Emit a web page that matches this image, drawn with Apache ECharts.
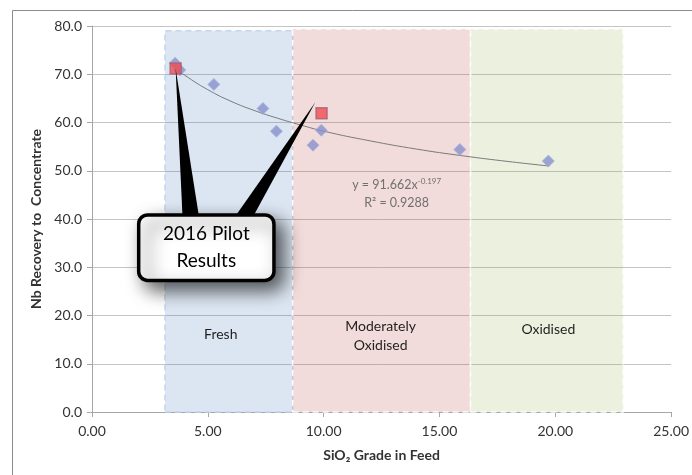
<!DOCTYPE html>
<html><head><meta charset="utf-8">
<script src="https://cdn.jsdelivr.net/npm/echarts@6/dist/echarts.min.js"></script>
<style>html,body{margin:0;padding:0;background:#fff}#c{width:692px;height:475px}</style>
</head><body><div id="c"></div>
<script>
// ---- data ----
const samplePoints = [[3.59,72.3],[3.79,70.9],[5.26,67.9],[7.38,62.9],[7.96,58.2],[9.54,55.3],[9.90,58.4],[15.88,54.4],[19.70,52.0]];
const pilotPoints = [[3.61,71.2],[9.91,61.9]];
const trendPoints = [[3.6,71.2],[4,69.8],[5,66.8],[6,64.4],[7,62.5],[8,60.9],[9,59.5],[10,58.2],[12,56.2],[14,54.5],[16,53.1],[18,51.9],[19.7,51.0]];
const zoneNames = ['Fresh','Moderately\nOxidised','Oxidised'];
const zoneFrom = [3.15, 8.66, 16.34];
const zoneTo = [8.66, 16.34, 22.93];
const zoneTop = [79.0, 79.4, 79.4];
const zoneLabelAt = [[5.56,16.1],[12.46,15.8],[19.7,17.2]];
const xTickLabels = ['0.00','5.00','10.00','15.00','20.00','25.00'];
const yTickLabels = ['0.0','10.0','20.0','30.0','40.0','50.0','60.0','70.0','80.0'];
const equationText = ['y = 91.662x', '-0.197', 'R² = 0.9288'];
const calloutText = ['2016 Pilot','Results'];

const FONT = 'Lato, "Open Sans", sans-serif';
const zoneFill = ['rgba(79,129,189,0.2)','rgba(192,80,77,0.2)','rgba(155,187,89,0.2)'];
const zoneBorder = ['#c3d5ec','rgba(255,255,255,0.9)','rgba(255,255,255,0.9)'];
const txt = '#333333';

const chart = echarts.init(document.getElementById('c'), null, {renderer:'canvas'});
const axisCol = '#a6a6a6';
chart.setOption({
  animation:false,
  backgroundColor:'#fff',
  grid:{left:92,right:20,top:26,bottom:63,containLabel:false},
  xAxis:{type:'value',min:0,max:25,interval:5,
    name:'SiO₂ Grade in Feed',nameLocation:'middle',nameGap:36,
    nameTextStyle:{fontFamily:FONT,fontWeight:'bold',fontSize:14,color:txt},
    axisLine:{show:true,lineStyle:{color:axisCol}},
    axisTick:{show:true,length:5,lineStyle:{color:axisCol}},
    splitLine:{show:false},
    axisLabel:{margin:12,fontFamily:FONT,fontSize:14,color:txt,formatter:v=>xTickLabels[Math.round(v/5)]}},
  yAxis:{type:'value',min:0,max:80,interval:10,
    name:'Nb Recovery to  Concentrate',nameLocation:'middle',nameGap:46,
    nameTextStyle:{fontFamily:FONT,fontWeight:'bold',fontSize:14,color:txt},
    axisLine:{show:true,lineStyle:{color:axisCol}},
    axisTick:{show:true,length:5,lineStyle:{color:axisCol}},
    splitLine:{show:true,lineStyle:{color:'#c4c4c4'}},
    axisLabel:{margin:10,fontFamily:FONT,fontSize:14,color:txt,formatter:v=>yTickLabels[Math.round(v/10)]}},
  series:[
    {type:'line',data:trendPoints,smooth:true,showSymbol:false,z:2,lineStyle:{color:'#7a7a7a',width:1}},
    {type:'scatter',data:samplePoints,symbol:'diamond',symbolSize:12,z:2,
     itemStyle:{color:'#8890cc',borderColor:'#9fb6dc',borderWidth:1}},
    {type:'scatter',data:[],z:3,silent:true,
     markArea:{silent:true,label:{show:false},
       data:zoneNames.map((n,i)=>[{xAxis:zoneFrom[i],yAxis:0,itemStyle:{color:zoneFill[i],borderColor:zoneBorder[i],borderWidth:1.5,borderType:[6,4]}},{xAxis:zoneTo[i],yAxis:zoneTop[i]}])}},
    {type:'scatter',data:pilotPoints,symbol:'rect',symbolSize:11,z:5,
     itemStyle:{color:'#f04c4f',borderColor:'#a8607a',borderWidth:1.5}}
  ]
});

function P(x,y){return chart.convertToPixel({gridIndex:0},[x,y]);}
const tip1 = P(pilotPoints[0][0],pilotPoints[0][1]);
const tip2 = P(9.64,64.2);
const boxA = P(1.94,41.2), boxB = P(7.93,26.9);
const baseY = P(0,39.2)[1];
const b1 = [P(3.92,0)[0],P(4.66,0)[0]];
const b2 = [P(5.99,0)[0],P(6.81,0)[0]];
const lw = 3.5;
const g = [
  {type:'rect',shape:{x:12.5,y:10.5,width:760,height:520},style:{fill:'transparent',stroke:'#8c8c8c',lineWidth:1},z:0,silent:true},
  {type:'polygon',shape:{points:[tip1,[b1[0],baseY],[b1[1],baseY]]},style:{fill:'#000'},z:20},
  {type:'polygon',shape:{points:[tip2,[b2[0],baseY],[b2[1],baseY]]},style:{fill:'#000'},z:20},
  {type:'rect',shape:{x:boxA[0]+lw/2,y:boxA[1]+lw/2,width:boxB[0]-boxA[0]-lw,height:boxB[1]-boxA[1]-lw,r:9},
   style:{fill:'#fff',stroke:'#000',lineWidth:lw,shadowBlur:18,shadowOffsetX:8,shadowOffsetY:8,shadowColor:'rgba(0,0,0,0.65)'},z:21},
  {type:'text',x:(boxA[0]+boxB[0])/2,y:(boxA[1]+boxB[1])/2,z:22,
   style:{text:calloutText.join('\n'),fontFamily:FONT,fontSize:19,lineHeight:27,fill:'#000',align:'center',verticalAlign:'middle'}}
];
zoneNames.forEach((n,i)=>{
  const p = P(zoneLabelAt[i][0],zoneLabelAt[i][1]);
  g.push({type:'text',x:p[0],y:p[1],z:10,style:{text:n,fontFamily:FONT,fontSize:14,lineHeight:19,fill:'#1f1f1f',align:'center',verticalAlign:'middle'}});
});
const e1 = P(13.15,47.0), e2 = P(13.15,43.3);
g.push({type:'text',x:e1[0],y:e1[1],z:10,style:{text:'{m|'+equationText[0]+'}{s|'+equationText[1]+'}',align:'center',verticalAlign:'middle',
  rich:{m:{fontFamily:FONT,fontSize:12.5,fill:'#707070'},s:{fontFamily:FONT,fontSize:8,fill:'#707070',padding:[0,0,7,0]}}}});
g.push({type:'text',x:e2[0],y:e2[1],z:10,style:{text:equationText[2],fontFamily:FONT,fontSize:12.5,fill:'#707070',align:'center',verticalAlign:'middle'}});
chart.setOption({graphic:{elements:g}});
</script></body></html>
